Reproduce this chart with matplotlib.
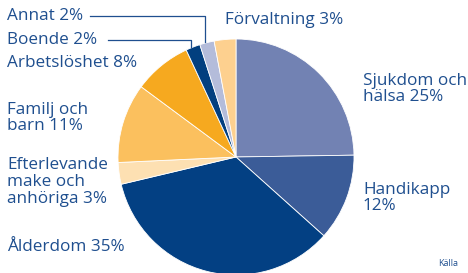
import matplotlib.pyplot as plt

# data
labels = ["Sjukdom och\nhälsa 25%", "Handikapp\n12%", "Ålderdom 35%",
          "Efterlevande\nmake och\nanhöriga 3%", "Familj och\nbarn 11%",
          "Arbetslöshet 8%", "Boende 2%", "Annat 2%", "Förvaltning 3%"]
shares = [25, 12, 35, 3, 11, 8, 2, 2, 3]
colors = ["#7282b3", "#3b5c98", "#034083", "#fde0b2", "#fbc05e",
          "#f6a91f", "#023f7f", "#b4bcda", "#fdd08f"]

text_color = "#1f4f8f"
H = 273

fig = plt.figure(figsize=(4.68, 2.73), dpi=100)
ax = fig.add_axes([0, 0, 1, 1])

ax.pie(shares, colors=colors, startangle=90, counterclock=False,
       center=(236, H - 157), radius=118, normalize=True,
       wedgeprops=dict(edgecolor="white", linewidth=0.6))
ax.set_xlim(0, 468)
ax.set_ylim(0, H)
ax.set_aspect("equal", adjustable="box")
ax.axis("off")

# label positions in image pixels (x, y of text centre)
pos = {
    "Sjukdom och\nhälsa 25%": (363, 89),
    "Handikapp\n12%": (363, 198),
    "Ålderdom 35%": (7, 247),
    "Efterlevande\nmake och\nanhöriga 3%": (7, 182),
    "Familj och\nbarn 11%": (7, 118),
    "Arbetslöshet 8%": (7, 63),
    "Boende 2%": (7, 40),
    "Annat 2%": (7, 16),
    "Förvaltning 3%": (225, 20),
}
for lab, (x, y) in pos.items():
    ax.text(x, H - y, lab, ha="left", va="center", fontsize=12.3,
            family="Open Sans", color=text_color, linespacing=1.05)

# leader lines for the thin slices
ax.plot([90, 205, 205], [H - 16, H - 16, H - 42], color=text_color, lw=0.9)
ax.plot([108, 191, 191], [H - 40, H - 40, H - 47], color=text_color, lw=0.9)

ax.text(438, H - 264, "Källa", ha="left", va="center", fontsize=6.5,
        family="Open Sans", color=text_color)

fig.savefig("out.png", dpi=100)
